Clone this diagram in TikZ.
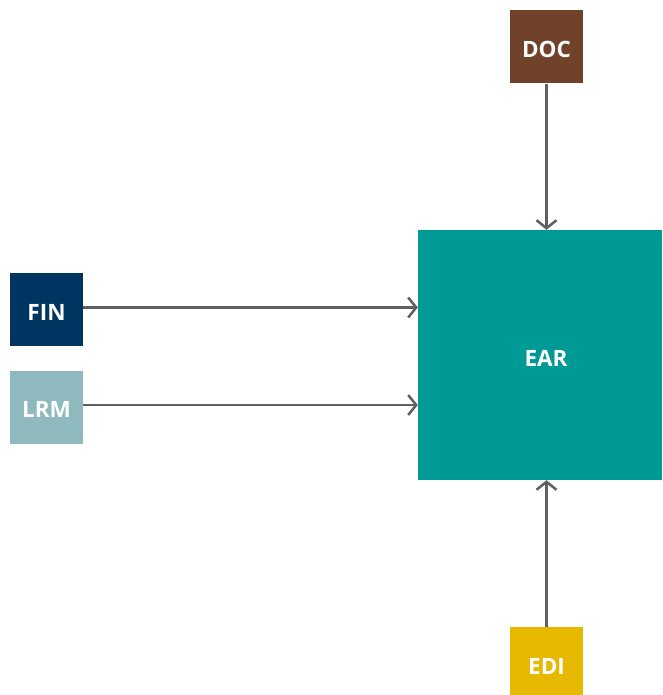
\documentclass[tikz,border=0pt]{standalone}
\usepackage{fontspec}
\setmainfont{Open Sans}
\usetikzlibrary{arrows.meta}
\definecolor{docbrown}{HTML}{6F4229}
\definecolor{finblue}{HTML}{003562}
\definecolor{lrmblue}{HTML}{8DB9BF}
\definecolor{earteal}{HTML}{009A96}
\definecolor{ediyellow}{HTML}{E6B800}
\definecolor{linkgray}{HTML}{5F6062}
\begin{document}
\begin{tikzpicture}[x=1pt,y=-1pt,
  box/.style={minimum width=73pt,minimum height=73pt,inner sep=0pt,
    text=white,text height=21pt,text depth=0pt,
    font=\fontsize{22.5}{25}\selectfont\bfseries},
  link/.style={draw=linkgray,line width=2.5pt,
    -{Straight Barb[length=8pt,width=20pt,line width=2.5pt]}}]
  \useasboundingbox (0,0) rectangle (662,695);
  \node[box,fill=docbrown]  (doc) at (546.5,47)  {DOC};
  \node[box,fill=finblue]   (fin) at (46.5,309.5) {FIN};
  \node[box,fill=lrmblue]   (lrm) at (46.5,407)  {LRM};
  \node[box,fill=ediyellow] (edi) at (546.5,663.5) {EDI};
  \node[box,fill=earteal,minimum width=244pt,minimum height=250pt] (ear) at (540,355) {};
  \node[box,minimum size=0pt] (earlabel) at (546,356) {EAR};
  \draw[link] (doc.south) -- (doc.south |- ear.north);
  \draw[link] ([yshift=2pt]fin.east) -- ([yshift=2pt]fin.east -| ear.west);
  \draw[link] ([yshift=2pt]lrm.east) -- ([yshift=2pt]lrm.east -| ear.west);
  \draw[link] (edi.north) -- (edi.north |- ear.south);
\end{tikzpicture}
\end{document}
